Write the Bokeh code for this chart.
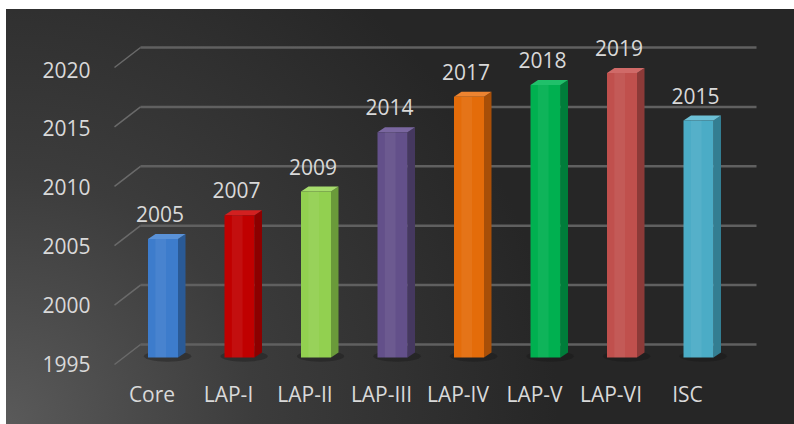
import numpy as np
from bokeh.plotting import figure
from bokeh.models import Range1d, LinearAxis, FixedTicker, ColumnDataSource
from bokeh.core.properties import value
from bokeh.embed import file_html
from bokeh.resources import INLINE

# ---- data ----
categories = ["Core", "LAP-I", "LAP-II", "LAP-III", "LAP-IV", "LAP-V", "LAP-VI", "ISC"]
years = [2005, 2007, 2009, 2014, 2017, 2018, 2019, 2015]
front_colors = ["#3d7ccc", "#c00000", "#92d050", "#63508a", "#e46c0a", "#00b050", "#c0504d", "#4bacc6"]
side_colors = ["#2a5a96", "#8c0000", "#6a9a3a", "#45385f", "#a84f08", "#007d3a", "#8c3a38", "#337e92"]
top_colors = ["#5a92d8", "#d22020", "#a6dc6c", "#7a67a0", "#ee8430", "#20c06a", "#d06a68", "#6cc0d6"]
y_ticks = [1995, 2000, 2005, 2010, 2015, 2020]
base_year = 1995

FONT = "Open Sans"
TXT = "#d9d9d9"
FS = "21px"

# ---- page geometry (pixels) ----
OX, OY = 6, 9            # where the chart starts on the page
W, H = 788, 415
FL, FR, FT, FB = 100, 794, 9, 372   # frame edges on page
PX_X = 76.5              # px per category
X0_PX = 162.5            # centre of first bar
PX_Y = 11.85             # px per year (bars)
BASE_PY = 357            # page y of bar bottoms


def to_x(px):
    return (px - X0_PX) / PX_X


def to_y(py):
    return base_year + (BASE_PY - py) / PX_Y


p = figure(width=W, height=H, output_backend="svg", toolbar_location=None,
           x_range=Range1d(to_x(FL), to_x(FR)), y_range=Range1d(to_y(FB), to_y(FT)),
           min_border_left=FL - OX, min_border_right=OX + W - FR, min_border_top=FT - OY,
           min_border_bottom=OY + H - FB,
           background_fill_color=None, border_fill_color=None,
           outline_line_color=None)
p.styles = {
    "background": "radial-gradient(circle at 0% 100%, #5a5a5a 0%, #3c3c3c 28%, #262626 62%)",
    "margin-left": f"{OX}px",
    "margin-top": f"{OY}px",
}
p.xaxis.visible = False
p.yaxis.visible = False
p.xgrid.visible = False
p.ygrid.visible = False

# ---- back wall gridlines and side stubs ----
n = len(categories)
gy = np.array(y_ticks, dtype=float)
back_py = 344 - (gy - base_year) * 11.88
k = len(gy)
p.segment(x0=[to_x(140)] * k, y0=to_y(back_py), x1=[to_x(756)] * k, y1=to_y(back_py),
          line_color="#606060", line_width=2.5)
p.segment(x0=[to_x(140)] * k, y0=to_y(back_py), x1=[to_x(114)] * k, y1=to_y(back_py + 20),
          line_color="#6a6a6a", line_width=1.5)

# ---- 3D bars ----
xs = np.arange(n, dtype=float)
hw = 15 / PX_X
dxs = 7.5 / PX_X
dys = 5 / PX_Y
vals = np.array(years, dtype=float)

side_x, side_y, top_x, top_y = [], [], [], []
for xi, v in zip(xs, vals):
    side_x.append([xi + hw, xi + hw, xi + hw + dxs, xi + hw + dxs])
    side_y.append([base_year, v, v + dys, base_year + dys])
    top_x.append([xi - hw, xi + hw, xi + hw + dxs, xi - hw + dxs])
    top_y.append([v, v, v + dys, v + dys])

# soft shadows beneath bars
p.ellipse(x=xs + 0.06, y=[base_year + 0.1] * n, width=0.62, height=0.9,
          fill_color="#151515", fill_alpha=0.35, line_color=None)

p.patches(side_x, side_y, fill_color=side_colors, line_color=None)
p.patches(top_x, top_y, fill_color=top_colors, line_color=None)
p.vbar(x=xs, width=2 * hw, bottom=base_year, top=vals, fill_color=front_colors, line_color=None)
# subtle highlight stripe on the front face
p.vbar(x=xs - 0.03, width=0.14, bottom=base_year, top=vals, fill_color="white", fill_alpha=0.06, line_color=None)

# ---- value labels ----
src = ColumnDataSource(dict(x=xs, y=vals, t=[str(v) for v in years]))
p.text(x="x", y="y", text="t", source=src, x_offset=-3, y_offset=-25,
       text_align="center", text_baseline="middle",
       text_font=value(FONT), text_font_size=FS, text_color=TXT)

# ---- axes (front-edge positions) ----
FRONT_PX_Y = 11.76
FRONT_BASE_PY = 363
p.extra_y_ranges = {"front": Range1d(base_year - (FB - FRONT_BASE_PY) / FRONT_PX_Y,
                                     base_year + (FRONT_BASE_PY - FT) / FRONT_PX_Y)}
ya = LinearAxis(y_range_name="front", ticker=FixedTicker(ticks=y_ticks))
ya.axis_line_color = None
ya.major_tick_line_color = None
ya.minor_tick_line_color = None
ya.major_label_standoff = 4
ya.major_label_text_font = FONT
ya.major_label_text_font_size = FS
ya.major_label_text_color = TXT
p.add_layout(ya, "left")

CAT0_PX = 151.5
p.extra_x_ranges = {"cats": Range1d((FL - CAT0_PX) / PX_X, (FR - CAT0_PX) / PX_X)}
xa = LinearAxis(x_range_name="cats", ticker=FixedTicker(ticks=list(range(n))))
xa.major_label_overrides = {i: c for i, c in enumerate(categories)}
xa.axis_line_color = None
xa.major_tick_line_color = None
xa.minor_tick_line_color = None
xa.major_label_standoff = 1
xa.major_label_text_font = FONT
xa.major_label_text_font_size = FS
xa.major_label_text_color = TXT
p.add_layout(xa, "below")

open("out.html", "w").write(file_html(p, INLINE))
